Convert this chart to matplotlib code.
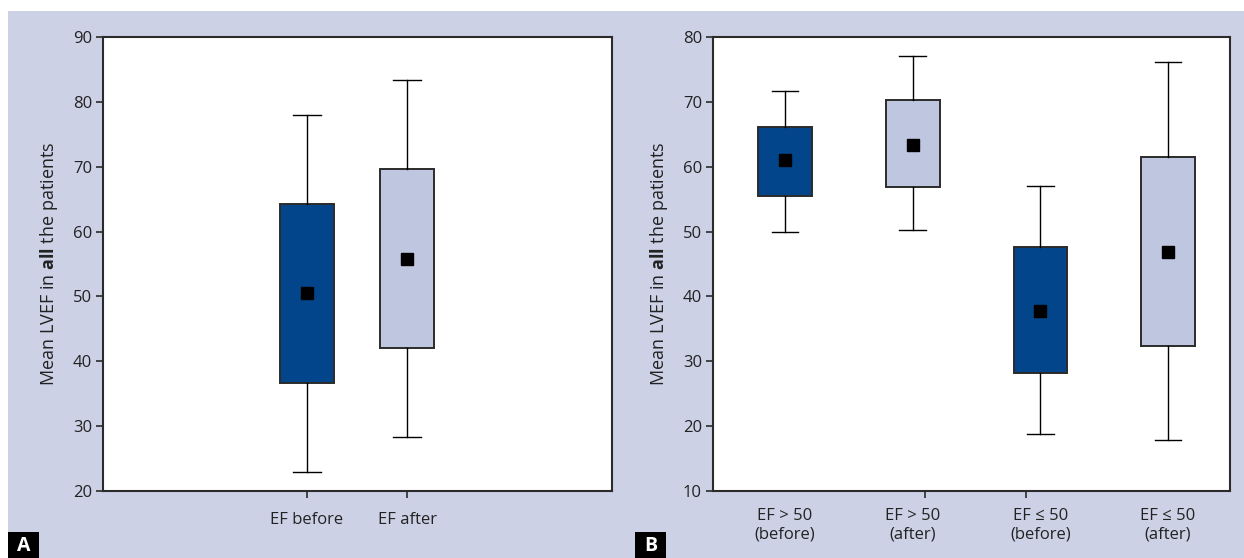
import matplotlib.pyplot as plt
from matplotlib.patches import Rectangle

plt.rcParams['font.family'] = ['Open Sans', 'DejaVu Sans']
plt.rcParams['mathtext.fontset'] = 'custom'
plt.rcParams['mathtext.rm'] = 'Open Sans'
plt.rcParams['mathtext.bf'] = 'Open Sans:bold'

# Colours
bg_color = '#cdd1e6'
dark_box = '#02458b'
light_box = '#bfc6e0'
edge_color = '#2b2b2b'
text_color = '#222222'

# Panel A data
a_labels = ['EF before', 'EF after']
a_whislo = [23.0, 28.4]
a_q1 = [36.6, 42.1]
a_mean = [50.5, 55.7]
a_q3 = [64.2, 69.7]
a_whishi = [78.0, 83.4]

# Panel B data
b_labels = ['EF > 50\n(before)', 'EF > 50\n(after)', 'EF \u2264 50\n(before)', 'EF \u2264 50\n(after)']
b_whislo = [50.0, 50.2, 18.8, 17.9]
b_q1 = [55.5, 56.9, 28.2, 32.4]
b_mean = [61.1, 63.4, 37.7, 46.9]
b_q3 = [66.2, 70.3, 47.6, 61.5]
b_whishi = [71.7, 77.0, 57.1, 76.2]

ylabel = r'Mean LVEF in $\mathbf{all}$ the patients'

fig = plt.figure(figsize=(12.44, 5.58), dpi=100, facecolor='white')
fig.patches.append(Rectangle((8 / 1244, 0), 1, 547 / 558, transform=fig.transFigure,
                             facecolor=bg_color, edgecolor='none', zorder=-10))


def make_stats(lo, q1, mean, q3, hi):
    return [dict(whislo=a, q1=b, med=c, mean=c, q3=d, whishi=e, fliers=[])
            for a, b, c, d, e in zip(lo, q1, mean, q3, hi)]


def draw_panel(ax, stats, labels, colors, width, capw, ylim, yticks):
    pos = list(range(1, len(stats) + 1))
    bp = ax.bxp(stats, positions=pos, widths=width, showmeans=True, showfliers=False,
                patch_artist=True, capwidths=capw,
                boxprops=dict(edgecolor=edge_color, linewidth=1.4),
                whiskerprops=dict(color='black', linewidth=1.0),
                capprops=dict(color='black', linewidth=1.0),
                medianprops=dict(linewidth=0),
                meanprops=dict(marker='s', markerfacecolor='black', markeredgecolor='black',
                               markersize=8))
    for patch, c in zip(bp['boxes'], colors):
        patch.set_facecolor(c)
    ax.set_ylim(*ylim)
    ax.set_yticks(yticks)
    ax.set_xticks(pos)
    ax.set_xticklabels(labels, fontsize=12, color=text_color)
    ax.tick_params(axis='y', labelsize=12, labelcolor=text_color, length=5,
                   width=1.2, color=edge_color, pad=3)
    for s in ax.spines.values():
        s.set_color(edge_color)
        s.set_linewidth(1.5)
    ax.set_ylabel(ylabel, fontsize=13, color=text_color, labelpad=9)
    ax.set_facecolor('white')


# Panel A
axA = fig.add_axes([103 / 1244, 67 / 558, 509 / 1244, 454 / 558])
draw_panel(axA, make_stats(a_whislo, a_q1, a_mean, a_q3, a_whishi), a_labels,
           [dark_box, light_box], 0.54, 0.28, (20, 90), range(20, 91, 10))
axA.set_xlim(-1.04, 4.05)
axA.tick_params(axis='x', length=5, width=1.2, color=edge_color, pad=10)

# Panel B
axB = fig.add_axes([713 / 1244, 67 / 558, 517 / 1244, 454 / 558])
draw_panel(axB, make_stats(b_whislo, b_q1, b_mean, b_q3, b_whishi), b_labels,
           [dark_box, light_box, dark_box, light_box], 0.42, 0.21, (10, 80), range(10, 81, 10))
axB.set_xlim(0.436, 4.485)
axB.tick_params(axis='x', which='major', length=0, pad=12)
axB.set_xticks([2.1, 2.89], minor=True)
axB.tick_params(axis='x', which='minor', length=5, width=1.2, color=edge_color)

# Panel letters
for x0, letter in [(8, 'A'), (635, 'B')]:
    fig.patches.append(Rectangle((x0 / 1244, 0), 31 / 1244, 26 / 558, transform=fig.transFigure,
                                 facecolor='black', edgecolor='none'))
    fig.text((x0 + 15.5) / 1244, 12 / 558, letter, color='white', fontsize=14,
             fontweight='bold', ha='center', va='center')

fig.savefig('out.png', dpi=100, facecolor=fig.get_facecolor())
